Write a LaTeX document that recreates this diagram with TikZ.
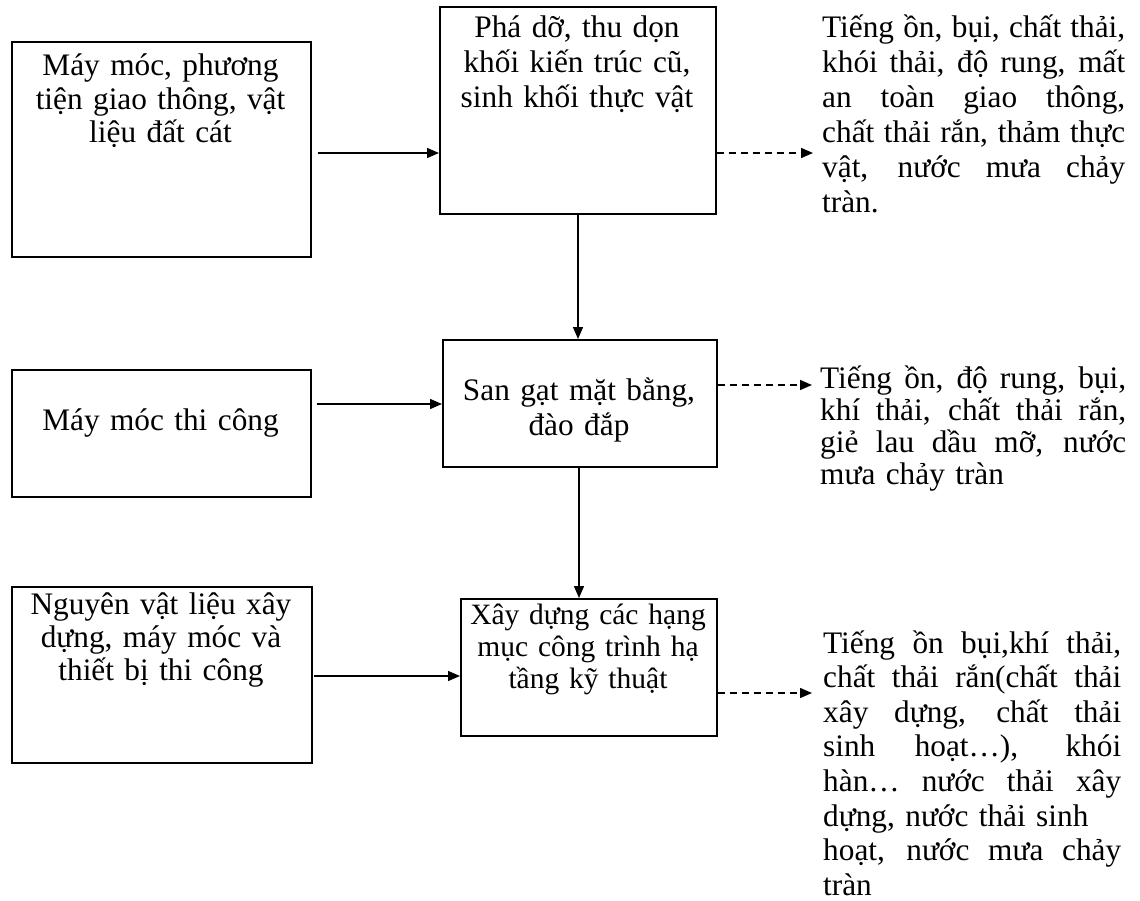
\documentclass[tikz,border=0pt]{standalone}
\usepackage{fontspec}
\setmainfont{Liberation Serif}
\usetikzlibrary{arrows.meta}
\newcommand\jl[2]{\makebox[#1][s]{\spaceskip=.25em plus 1fil minus .1em\relax #2}}
\begin{document}
\begin{tikzpicture}[x=1pt,y=-1pt,
  box/.style={draw,line width=1.6pt,inner sep=0pt,anchor=north west},
  btxt/.style={inner sep=0pt,anchor=base,align=center,text width=#1},
  rtxt/.style={inner sep=0pt,anchor=base west,align=left,text width=#1},
  arr/.style={line width=1.4pt,-{Triangle[length=12pt,width=10pt]}},
  darr/.style={arr,dash pattern=on 7pt off 5pt}]
\useasboundingbox[fill=white] (0,0) rectangle (1140,901);

% boxes
\node[box,minimum width=299pt,minimum height=215pt] (A) at (11,41) {};
\node[box,minimum width=276pt,minimum height=207pt] (B) at (439,6) {};
\node[box,minimum width=299pt,minimum height=127pt] (D) at (11,369) {};
\node[box,minimum width=274pt,minimum height=127pt] (E) at (442,339) {};
\node[box,minimum width=300pt,minimum height=176pt] (F) at (11,586) {};
\node[box,minimum width=256pt,minimum height=137pt] (G) at (460,598) {};

% box texts
\node[btxt=295pt,font=\fontsize{31.3pt}{33.5pt}\selectfont] (At) at (160.5,76)
  {Máy móc, phương\\tiện giao thông, vật\\liệu đất cát};
\node[btxt=272pt,font=\fontsize{31.3pt}{35pt}\selectfont] (Bt) at (577,38)
  {Phá dỡ, thu dọn\\khối kiến trúc cũ,\\sinh khối thực vật};
\node[btxt=295pt,font=\fontsize{31.3pt}{34pt}\selectfont] (Dt) at (160.5,430)
  {Máy móc thi công};
\node[btxt=270pt,font=\fontsize{31.3pt}{35pt}\selectfont] (Et) at (579,400)
  {San gạt mặt bằng,\\đào đắp};
\node[btxt=296pt,font=\fontsize{31.3pt}{33pt}\selectfont] (Ft) at (161,614)
  {Nguyên vật liệu xây\\dựng, máy móc và\\thiết bị thi công};
\node[btxt=252pt,font=\fontsize{29.5pt}{32pt}\selectfont] (Gt) at (588,624)
  {Xây dựng các hạng\\mục công trình hạ\\tầng kỹ thuật};

% right-hand texts
\node[rtxt=303pt,font=\fontsize{31.3pt}{35pt}\selectfont] (C) at (822,38)
  {\jl{303pt}{Tiếng ồn, bụi, chất thải,}\\
   \jl{303pt}{khói thải, độ rung, mất}\\
   \jl{303pt}{an toàn giao thông,}\\
   \jl{303pt}{chất thải rắn, thảm thực}\\
   \jl{303pt}{vật, nước mưa chảy}\\
   tràn.};
\node[rtxt=306pt,font=\fontsize{31.3pt}{32pt}\selectfont] (H) at (820,388)
  {\jl{306pt}{Tiếng ồn, độ rung, bụi,}\\
   \jl{306pt}{khí thải, chất thải rắn,}\\
   \jl{306pt}{giẻ lau dầu mỡ, nước}\\
   mưa chảy tràn};
\node[rtxt=298pt,font=\fontsize{31.3pt}{34.6pt}\selectfont] (I) at (823,653)
  {\jl{298pt}{Tiếng ồn bụi,khí thải,}\\
   \jl{298pt}{chất thải rắn(chất thải}\\
   \jl{298pt}{xây dựng, chất thải}\\
   \jl{298pt}{sinh hoạt…), khói}\\
   \jl{298pt}{hàn… nước thải xây}\\
   dựng, nước thải sinh\\
   \jl{298pt}{hoạt, nước mưa chảy}\\
   tràn};

% connectors
\draw[arr,shorten <=6pt] (A.east |- 0,153) -- (B.west |- 0,153);
\draw[arr,shorten <=5pt] (D.east |- 0,404) -- (E.west |- 0,404);
\draw[arr,shorten <=1pt] (F.east |- 0,676) -- (G.west |- 0,676);
\draw[arr] (B.south -| 578,0) -- (E.north -| 578,0);
\draw[arr] (E.south -| 579,0) -- (G.north -| 579,0);
\draw[darr,shorten >=9pt] (B.east |- 0,153) -- (C.west |- 0,153);
\draw[darr,shorten >=8pt] (E.east |- 0,385) -- (H.west |- 0,385);
\draw[darr,shorten >=11pt] (G.east |- 0,693) -- (I.west |- 0,693);
\end{tikzpicture}
\end{document}
